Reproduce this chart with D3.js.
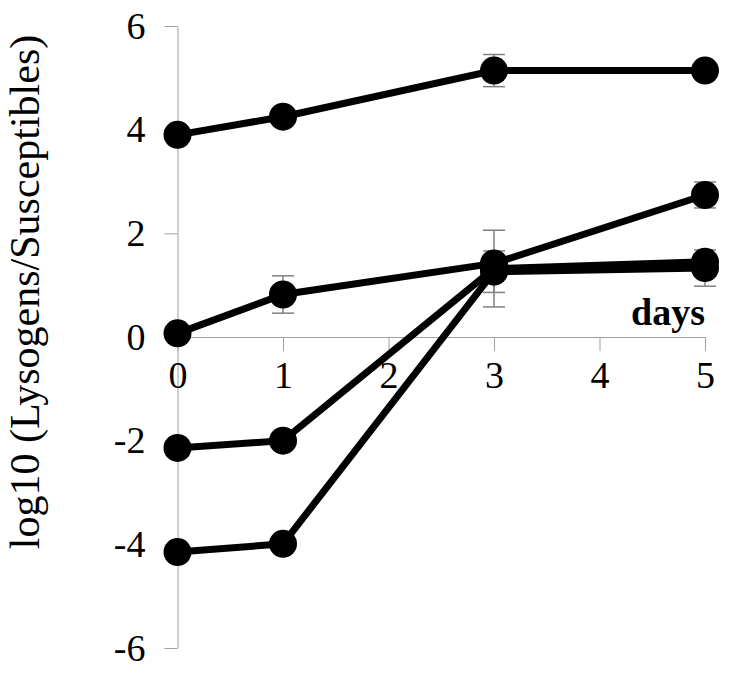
<!DOCTYPE html>
<html>
<head>
<meta charset="utf-8">
<script src="https://cdn.jsdelivr.net/npm/d3@7"></script>
<style>
  body { margin: 0; background: #fff; }
  text { font-family: "Liberation Serif", "Times New Roman", serif; fill: #000; }
</style>
</head>
<body>
<svg id="chart" width="731" height="673"></svg>
<script>
// data
const days = [0, 1, 3, 5];
const seriesA = [3.9, 4.25, 5.14, 5.14];
const seriesB = [0.07, 0.82, 1.42, 2.74];
const seriesC = [-2.14, -2.0, 1.32, 1.45];
const seriesD = [-4.15, -3.99, 1.26, 1.33];
const errA = [0, 0, 0.31, 0];
const errB = [0, 0.36, 0, 0.25];
const errC = [0, 0, 0.74, 0];
const errD = [0, 0, 0.4, 0.35];
const xTicks = [0, 1, 2, 3, 4, 5];
const yTicks = [-6, -4, -2, 0, 2, 4, 6];

const svg = d3.select('#chart');
const x = d3.scaleLinear().domain([0, 5]).range([177.5, 705]);
const y = d3.scaleLinear().domain([-6, 6]).range([648, 26]);

const axisColor = '#a0a0a0';
const serif = '"Liberation Serif", "Times New Roman", serif';
const fmt = d => String(d);   // plain hyphen minus, like the original

// y axis
const gy = svg.append('g')
    .attr('transform', `translate(${x(0)},0)`)
    .call(d3.axisLeft(y).tickValues(yTicks).tickFormat(fmt)
        .tickSize(13).tickPadding(19).tickSizeOuter(0))
    .attr('font-family', serif)
    .attr('font-size', 38);
gy.select('.domain').attr('stroke', axisColor);
gy.selectAll('.tick line').attr('stroke', axisColor);
gy.selectAll('.tick text').style('font-family', serif).style('font-size', '38px');

// x axis at y = 0
const gx = svg.append('g')
    .attr('transform', `translate(0,${y(0)})`)
    .call(d3.axisBottom(x).tickValues(xTicks).tickFormat(fmt)
        .tickSize(14).tickPadding(10).tickSizeOuter(0))
    .attr('font-family', serif)
    .attr('font-size', 38);
gx.select('.domain').attr('stroke', axisColor);
gx.selectAll('.tick line').attr('stroke', axisColor);
gx.selectAll('.tick text').style('font-family', serif).style('font-size', '38px');

// axis titles
svg.append('text')
    .attr('x', 705)
    .attr('y', 325)
    .attr('text-anchor', 'end')
    .style('font-size', '38px')
    .style('font-weight', 'bold')
    .text('days');

svg.append('text')
    .attr('transform', 'translate(39,292) rotate(-90)')
    .attr('text-anchor', 'middle')
    .style('font-size', '42px')
    .text('log10 (Lysogens/Susceptibles)');

const series = [
    {v: seriesA, e: errA},
    {v: seriesB, e: errB},
    {v: seriesC, e: errC},
    {v: seriesD, e: errD}
];

const line = d3.line()
    .x((d, i) => x(days[i]))
    .y(d => y(d));

// error bars
series.forEach(s => {
    const eb = svg.append('g')
        .attr('stroke', '#808080')
        .attr('stroke-width', 1.5);
    days.forEach((d, i) => {
        if (!s.e[i]) return;
        const cx = x(d);
        const lo = y(s.v[i] - s.e[i]);
        const hi = y(s.v[i] + s.e[i]);
        eb.append('line').attr('x1', cx).attr('x2', cx).attr('y1', lo).attr('y2', hi);
        eb.append('line').attr('x1', cx - 11).attr('x2', cx + 11).attr('y1', lo).attr('y2', lo);
        eb.append('line').attr('x1', cx - 11).attr('x2', cx + 11).attr('y1', hi).attr('y2', hi);
    });
});

// lines and markers
series.forEach(s => {
    svg.append('path')
        .datum(s.v)
        .attr('d', line)
        .attr('fill', 'none')
        .attr('stroke', '#000')
        .attr('stroke-width', 7);
    svg.append('g')
        .selectAll('circle')
        .data(s.v)
        .enter()
        .append('circle')
        .attr('cx', (d, i) => x(days[i]))
        .attr('cy', d => y(d))
        .attr('r', 14)
        .attr('fill', '#000');
});
</script>
</body>
</html>
